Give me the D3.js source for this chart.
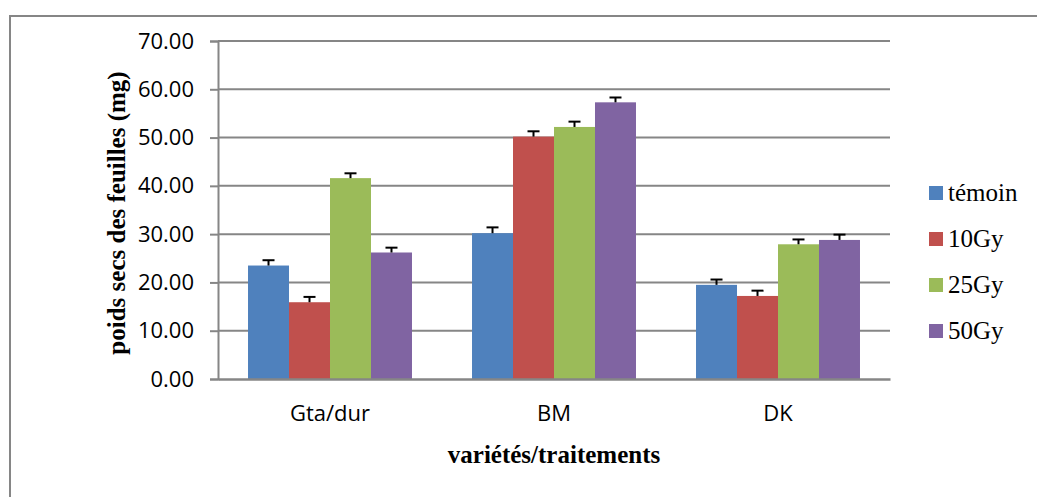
<!DOCTYPE html>
<html>
<head>
<meta charset="utf-8">
<script src="https://cdn.jsdelivr.net/npm/d3@7"></script>
<style>
  body { margin: 0; background: #fff; }
</style>
</head>
<body>
<div id="chart"></div>
<script>
const categories = ["Gta/dur", "BM", "DK"];
const seriesNames = ["témoin", "10Gy", "25Gy", "50Gy"];
const seriesColors = ["#4F81BD", "#C0504D", "#9BBB59", "#8064A2"];
const temoin = [23.5, 30.2, 19.5];
const gy10 = [15.9, 50.2, 17.2];
const gy25 = [41.6, 52.2, 27.9];
const gy50 = [26.2, 57.3, 28.8];
const errTemoin = [1.1, 1.2, 1.1];
const errGy10 = [1.1, 1.1, 1.1];
const errGy25 = [1.0, 1.1, 1.0];
const errGy50 = [1.0, 1.0, 1.1];
const yTicks = [0, 10, 20, 30, 40, 50, 60, 70];

const series = [temoin, gy10, gy25, gy50];
const errors = [errTemoin, errGy10, errGy25, errGy50];

const W = 1037, H = 497;
const margin = {top: 41, left: 218, right: 147, bottom: 118};
const plotW = W - margin.left - margin.right;
const plotH = H - margin.top - margin.bottom;
const grey = "#868686";

const svg = d3.select("#chart").append("svg")
  .attr("width", W)
  .attr("height", H);

// outer chart border (runs off the right and bottom edges)
svg.append("rect")
  .attr("x", 10).attr("y", 16)
  .attr("width", W + 20).attr("height", H + 20)
  .attr("fill", "none")
  .attr("stroke", grey)
  .attr("stroke-width", 2);

const g = svg.append("g")
  .attr("transform", `translate(${margin.left},${margin.top})`);

const x0 = d3.scaleBand()
  .domain(categories)
  .range([0, plotW])
  .paddingInner(0.268)
  .paddingOuter(0.134);

const x1 = d3.scaleBand()
  .domain(d3.range(seriesNames.length))
  .range([0, x0.bandwidth()]);

const y = d3.scaleLinear()
  .domain([0, 70])
  .range([plotH, 0]);

// gridlines
g.append("g")
  .selectAll("line")
  .data(yTicks.filter(d => d > 0))
  .enter().append("line")
    .attr("x1", 0).attr("x2", plotW)
    .attr("y1", d => y(d)).attr("y2", d => y(d))
    .attr("stroke", grey)
    .attr("stroke-width", 2);

// y axis
const yAxis = g.append("g")
  .call(d3.axisLeft(y).tickValues(yTicks).tickSize(8).tickPadding(16).tickFormat(d3.format(".2f")));
yAxis.select(".domain").attr("stroke", grey).attr("stroke-width", 2);
yAxis.selectAll(".tick line").attr("stroke", grey).attr("stroke-width", 2);
yAxis.selectAll(".tick text")
  .attr("font-family", "'Open Sans', sans-serif")
  .attr("font-size", "22px")
  .attr("fill", "#000");

// bars
const groups = g.selectAll(".grp")
  .data(categories)
  .enter().append("g")
    .attr("class", "grp")
    .attr("transform", d => `translate(${x0(d)},0)`);

groups.selectAll("rect")
  .data((d, i) => series.map((s, k) => ({k, v: s[i], e: errors[k][i]})))
  .enter().append("rect")
    .attr("x", d => x1(d.k))
    .attr("y", d => y(d.v))
    .attr("width", x1.bandwidth())
    .attr("height", d => plotH - y(d.v))
    .attr("fill", d => seriesColors[d.k]);

// error bars
const eb = groups.selectAll(".err")
  .data((d, i) => series.map((s, k) => ({k, v: s[i], e: errors[k][i]})))
  .enter().append("g")
    .attr("class", "err")
    .attr("stroke", "#000")
    .attr("stroke-width", 2);
eb.append("line")
  .attr("x1", d => x1(d.k) + x1.bandwidth() / 2)
  .attr("x2", d => x1(d.k) + x1.bandwidth() / 2)
  .attr("y1", d => y(d.v))
  .attr("y2", d => y(d.v + d.e));
eb.append("line")
  .attr("x1", d => x1(d.k) + x1.bandwidth() / 2 - 6)
  .attr("x2", d => x1(d.k) + x1.bandwidth() / 2 + 6)
  .attr("y1", d => y(d.v + d.e))
  .attr("y2", d => y(d.v + d.e));

// x axis
const xAxis = g.append("g")
  .attr("transform", `translate(0,${plotH})`)
  .call(d3.axisBottom(x0).tickSize(0).tickPadding(26));
xAxis.select(".domain").attr("stroke", grey).attr("stroke-width", 2.5);
xAxis.selectAll(".tick text")
  .attr("font-family", "'Open Sans', sans-serif")
  .attr("font-size", "22px")
  .attr("fill", "#000");

// axis titles
svg.append("text")
  .attr("x", margin.left + plotW / 2)
  .attr("y", 463)
  .attr("text-anchor", "middle")
  .attr("font-family", "'Liberation Serif', serif")
  .attr("font-weight", "bold")
  .attr("font-size", "25px")
  .text("variétés/traitements");

svg.append("text")
  .attr("transform", `translate(125,213) rotate(-90)`)
  .attr("text-anchor", "middle")
  .attr("font-family", "'Liberation Serif', serif")
  .attr("font-weight", "bold")
  .attr("font-size", "25px")
  .text("poids secs des feuilles (mg)");

// legend
const legend = svg.append("g")
  .attr("transform", "translate(929,193)");
const items = legend.selectAll("g")
  .data(seriesNames)
  .enter().append("g")
    .attr("transform", (d, i) => `translate(0,${i * 46})`);
items.append("rect")
  .attr("x", 0).attr("y", -7)
  .attr("width", 14).attr("height", 14)
  .attr("fill", (d, i) => seriesColors[i]);
items.append("text")
  .attr("x", 19)
  .attr("y", 8)
  .attr("font-family", "'Liberation Serif', serif")
  .attr("font-size", "25px")
  .text(d => d);
</script>
</body>
</html>
